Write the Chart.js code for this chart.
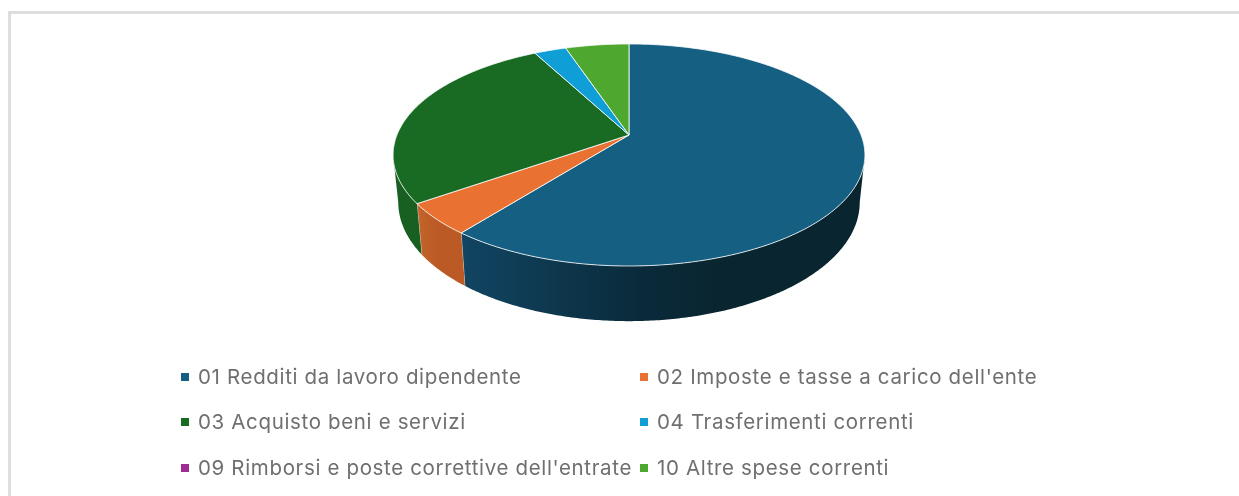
<!DOCTYPE html>
<html lang="it">
<head>
<meta charset="utf-8">
<title>Spese correnti</title>
<script src="https://cdn.jsdelivr.net/npm/chart.js@4/dist/chart.umd.min.js"></script>
<style>
  html, body { margin: 0; padding: 0; background: #fff; width: 1239px; height: 496px; overflow: hidden; }
  #frame { position: absolute; left: 8px; top: 11px; right: 0; bottom: 0; border-left: 3px solid #dedede; border-top: 3px solid #dedede; }
  #pie { position: absolute; left: 0; top: 0; }
  #legend { position: absolute; left: 0; top: 0; font-family: "Inter", sans-serif; font-size: 20.5px; letter-spacing: 0.65px; color: #6f6f6f; }
  .item { position: absolute; white-space: nowrap; line-height: 24px; height: 24px; }
  .item i { position: absolute; left: 0; top: 8px; width: 8px; height: 8px; }
  .item span { position: absolute; left: 17px; top: 0; }
</style>
</head>
<body>
<div id="frame"></div>
<canvas id="pie" width="1239" height="496"></canvas>
<div id="legend"></div>
<script>
// Dati del grafico (percentuali)
const labels = [
  "01 Redditi da lavoro dipendente",
  "02 Imposte e tasse a carico dell'ente",
  "03 Acquisto beni e servizi",
  "04 Trasferimenti correnti",
  "09 Rimborsi e poste correttive dell'entrate",
  "10 Altre spese correnti",
];
const values = [60.67, 4.61, 26.94, 2.61, 0, 5.17];
const colors = ["#156082", "#E97132", "#196B24", "#0F9ED5", "#A02B93", "#4EA72E"];

// Colore del bordo laterale: da sinistra a destra
const wallColors = [
  ["#114562", "#0a2a3a", "#09252f"],
  ["#c4652c", "#bb5a25", "#bb5a25"],
  ["#175f22", "#185f22", "#185f22"],
  ["#0c7fab", "#0c7fab", "#0c7fab"],
  ["#7f2275", "#7f2275", "#7f2275"],
  ["#3e8525", "#3e8525", "#3e8525"],
];

// Prospettiva del disco
const scaleX = 1.719;
const scaleY = 0.7956;
const tilt = -0.18;
const bottomShrink = 0.978;
const bottomStretch = 1.07;
const bottomDrop = 46;
const frontStart = 10.4 * Math.PI / 180;
const frontEnd = 169.6 * Math.PI / 180;

// Da angolo dell'arco a punto sul bordo superiore o inferiore
function rimPoint(arc, angle, lower) {
  const w = 1 + tilt * Math.sin(angle);
  let px = arc.outerRadius * scaleX * Math.cos(angle) / w;
  let py = arc.outerRadius * scaleY * Math.sin(angle) / w;
  if (lower) {
    px = px * bottomShrink;
    py = py * bottomStretch + bottomDrop;
  }
  return [arc.x + px, arc.y + py];
}

function traceRim(ctx, arc, from, to, lower) {
  const steps = Math.max(2, Math.ceil(Math.abs(to - from) / 0.01));
  for (let i = 0; i <= steps; i++) {
    const p = rimPoint(arc, from + (to - from) * i / steps, lower);
    ctx.lineTo(p[0], p[1]);
  }
}

const pie3d = {
  id: "pie3d",
  beforeDatasetDraw(chart, args) {
    const ctx = chart.ctx;
    const arcs = args.meta.data;
    ctx.save();

    // Parete laterale
    arcs.forEach((arc, i) => {
      const a = Math.max(arc.startAngle, frontStart);
      const b = Math.min(arc.endAngle, frontEnd);
      if (b <= a) return;
      const left = rimPoint(arc, Math.PI, false)[0];
      const right = rimPoint(arc, 0, false)[0];
      const grad = ctx.createLinearGradient(left, 0, right, 0);
      const from = rimPoint(arc, b, false)[0];
      const to = rimPoint(arc, a, false)[0];
      grad.addColorStop(Math.max(0, (from - left) / (right - left)), wallColors[i][0]);
      grad.addColorStop(Math.min(1, (from + (to - from) * 0.45 - left) / (right - left)), wallColors[i][1]);
      grad.addColorStop(Math.min(1, (from + (to - from) * 0.65 - left) / (right - left)), wallColors[i][2]);
      ctx.beginPath();
      traceRim(ctx, arc, a, b, false);
      traceRim(ctx, arc, b, a, true);
      ctx.closePath();
      ctx.fillStyle = grad;
      ctx.fill();
      // Separatore tra le pareti
      if (arc.endAngle < frontEnd) {
        const t = rimPoint(arc, arc.endAngle, false);
        const l = rimPoint(arc, arc.endAngle, true);
        ctx.beginPath();
        ctx.moveTo(t[0], t[1]);
        ctx.lineTo(l[0], l[1]);
        ctx.strokeStyle = "rgba(255,255,255,0.6)";
        ctx.lineWidth = 1;
        ctx.stroke();
      }
    });

    // Faccia superiore
    arcs.forEach((arc, i) => {
      if (arc.endAngle - arc.startAngle <= 0) return;
      ctx.beginPath();
      ctx.moveTo(arc.x, arc.y);
      traceRim(ctx, arc, arc.startAngle, arc.endAngle, false);
      ctx.closePath();
      ctx.fillStyle = colors[i];
      ctx.fill();
      ctx.strokeStyle = "rgba(255,255,255,0.8)";
      ctx.lineWidth = 1;
      ctx.stroke();
    });

    ctx.restore();
    return false;
  },
};

new Chart(document.getElementById("pie").getContext("2d"), {
  type: "pie",
  data: {
    labels: labels,
    datasets: [{ data: values, backgroundColor: colors, borderWidth: 0 }],
  },
  options: {
    responsive: false,
    animation: false,
    layout: { padding: { left: 494, right: 475, top: 0, bottom: 226 } },
    plugins: { legend: { display: false }, tooltip: { enabled: false } },
  },
  plugins: [pie3d],
});

// Legenda su due colonne
const legend = document.getElementById("legend");
const columnX = [181, 640];
const rowY = [365, 410, 456];
labels.forEach((label, i) => {
  const item = document.createElement("div");
  item.className = "item";
  item.style.left = columnX[i % 2] + "px";
  item.style.top = rowY[Math.floor(i / 2)] + "px";
  const mark = document.createElement("i");
  mark.style.background = colors[i];
  const text = document.createElement("span");
  text.textContent = label;
  item.appendChild(mark);
  item.appendChild(text);
  legend.appendChild(item);
});
</script>
</body>
</html>
